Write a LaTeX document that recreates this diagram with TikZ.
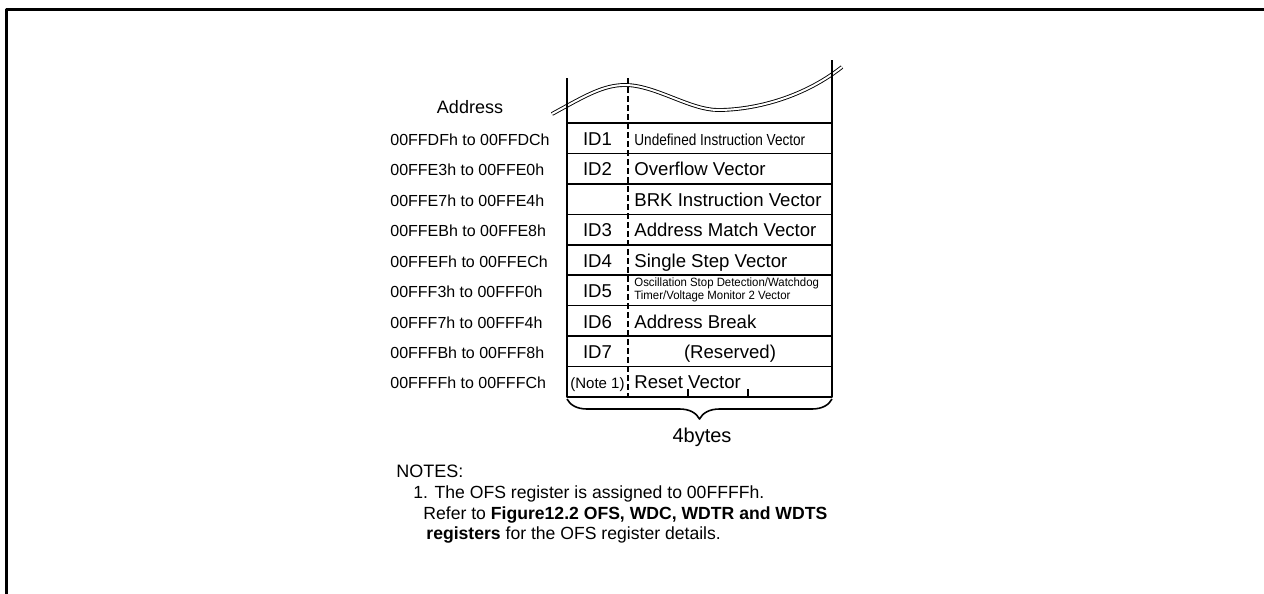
\documentclass[tikz,border=0pt]{standalone}
\usepackage{fontspec}
\setmainfont{Liberation Sans}
\usepackage{graphicx}
\usetikzlibrary{decorations.pathreplacing}
\tikzset{
  cell/.style={inner sep=0pt, text height=0.72em, text depth=0pt},
  addr/.style={cell, anchor=west, font=\fontsize{8}{9}\selectfont},
  idtxt/.style={cell, font=\fontsize{9.3}{11}\selectfont},
  vect/.style={cell, anchor=west, font=\fontsize{9.3}{11}\selectfont},
  note/.style={anchor=base west, inner sep=0pt, font=\fontsize{8.8}{10}\selectfont},
  tbl/.style={line width=0.8pt}
}
\begin{document}
\begin{tikzpicture}[x=0.5pt,y=-0.5pt,line join=round]
    \useasboundingbox (0,0) rectangle (1264,594);
    \def\xa{567}
    \def\xb{628}
    \def\xc{832}
    \def\yt{123}
    \def\h{30.44}
    \def\yb{397}
    % frame
    \draw[line width=1.65pt] (6.7,594) -- (6.7,9.7) -- (1264,9.7);
    % broken top of the map
    \draw[line width=0.45pt,double,double distance=1pt] (552,114) .. controls (585,96) and (603,85) .. (625,85)
        .. controls (655,85) and (690,110) .. (718,110) .. controls (750,110) and (800,100) .. (842,67);
    \draw[tbl] (\xa,78) -- (\xa,\yb) -- (\xc,\yb) -- (\xc,60);
    \draw[line width=1.2pt,dash pattern=on 3pt off 1.5pt] (\xb,78) -- (\xb,\yb);
    \foreach \i in {0,...,8} \draw[tbl] (\xa,\yt+\i*\h) -- (\xc,\yt+\i*\h);
    \foreach \x in {688,748} \draw[tbl] (\x,389) -- (\x,\yb);
    \node[font=\fontsize{9}{11}\selectfont,cell] (head) at (470,106.5) {Address};
    \foreach \adr/\id [count=\r from 0] in {00FFDFh to 00FFDCh/ID1,00FFE3h to 00FFE0h/ID2,00FFE7h to 00FFE4h/,
        00FFEBh to 00FFE8h/ID3,00FFEFh to 00FFECh/ID4,00FFF3h to 00FFF0h/ID5,00FFF7h to 00FFF4h/ID6,
        00FFFBh to 00FFF8h/ID7,00FFFFh to 00FFFCh/{\fontsize{7.5}{8}\selectfont(Note 1)}}{
        \node[addr] (a\r) at (390,{\yt+(\r+0.5)*\h}) {\adr};
        \node[idtxt] (id\r) at (597.5,{\yt+(\r+0.5)*\h}) {\id};
    }
    \node[vect] (v0) at (634,{\yt+0.5*\h}) {\scalebox{0.85}[1]{\fontsize{8}{9}\selectfont Undefined Instruction Vector}};
    \node[vect] (v1) at (634,{\yt+1.5*\h}) {Overflow Vector};
    \node[vect] (v2) at (634,{\yt+2.5*\h}) {BRK Instruction Vector};
    \node[vect] (v3) at (634,{\yt+3.5*\h}) {Address Match Vector};
    \node[vect] (v4) at (634,{\yt+4.5*\h}) {Single Step Vector};
    \node[anchor=west,inner sep=0pt] (v5) at (634,{\yt+5.5*\h}) {\scalebox{0.95}[1]{\fontsize{6}{6.2}\selectfont
        \begin{tabular}{@{}l@{}}Oscillation Stop Detection/Watchdog\\Timer/Voltage Monitor 2 Vector\end{tabular}}};
    \node[vect] (v6) at (634,{\yt+6.5*\h}) {Address Break};
    \node[idtxt] (v7) at (730,{\yt+7.5*\h}) {(Reserved)};
    \node[vect] (v8) at (634,{\yt+8.5*\h}) {Reset Vector};
    % 4 bytes wide
    \draw[tbl,decorate,decoration={brace,mirror,amplitude=10pt}] (\xa,399) -- (\xc,399);
    \node[anchor=base,inner sep=0pt,font=\fontsize{10}{12}\selectfont] (bytes) at (702,442) {4bytes};
    \node[note,font=\fontsize{9}{10}\selectfont] (n0) at (396,477) {NOTES:};
    \node[note] (n1) at (413,498) {1. The OFS register is assigned to 00FFFFh.};
    \node[note] (n2) at (423,519) {Refer to \textbf{Figure12.2 OFS, WDC, WDTR and WDTS}};
    \node[note] (n3) at (426,539.5) {\textbf{registers} for the OFS register details.};
\end{tikzpicture}
\end{document}
